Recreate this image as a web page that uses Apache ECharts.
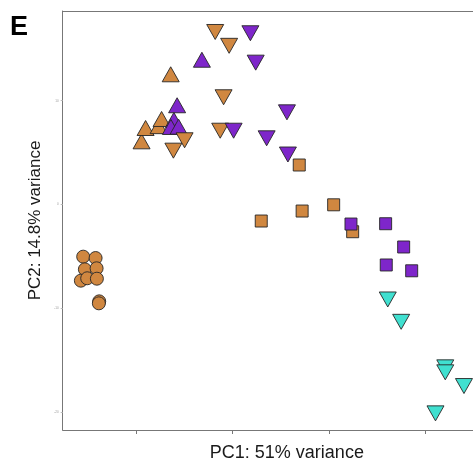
<!DOCTYPE html>
<html>
<head>
<meta charset="utf-8">
<script src="https://cdn.jsdelivr.net/npm/echarts@6/dist/echarts.min.js"></script>
<style>html,body{margin:0;padding:0;background:#fff}#c{width:473px;height:460px}</style>
</head>
<body>
<div id="c"></div>
<script>
// PCA scores [PC1, PC2]
var orangeCircles = [[-30.95,-5.01],[-28.38,-5.14],[-30.60,-6.23],[-28.17,-6.13],[-31.43,-7.32],[-30.12,-7.09],[-28.11,-7.13],[-27.63,-9.31],[-27.70,-9.50]];
var orangeUp = [[-18.84,6.09],[-18.01,7.37],[-15.31,7.55],[-14.69,8.24],[-12.80,12.54]];
var purpleUp = [[-6.33,13.94],[-11.47,9.56],[-12.14,8.14],[-12.76,7.47],[-11.16,7.50]];
var orangeDown = [[-3.57,16.61],[-0.68,15.28],[-1.83,10.33],[-2.53,7.11],[-9.92,6.19],[-12.24,5.19]];
var purpleDown = [[3.73,16.49],[4.83,13.66],[0.25,7.11],[7.10,6.38],[11.31,8.88],[11.51,4.82]];
var orangeSquares = [[13.86,3.81],[5.98,-1.58],[14.46,-0.62],[21.00,-0.02],[24.94,-2.61]];
var purpleSquares = [[24.59,-1.87],[31.78,-1.84],[35.52,-4.08],[31.91,-5.81],[37.18,-6.37]];
var cyanDown = [[32.22,-9.13],[35.00,-11.28],[44.15,-15.66],[44.15,-16.14],[48.03,-17.46],[42.12,-20.09]];
var xTicks = [-20, 0, 20, 40];
var yTicks = [-20, -10, 0, 10];

var ORANGE = '#D08740', PURPLE = '#7E26CA', CYAN = '#40E0D0';
var FONT = 'Liberation Sans, Arial, sans-serif';

function sc(data, color, symbol, size, rot) {
  return {
    type: 'scatter', data: data, symbol: symbol, symbolSize: size, symbolRotate: rot || 0,
    xAxisIndex: 0, yAxisIndex: 0, clip: false,
    itemStyle: { color: color, borderColor: '#262626', borderWidth: 0.9, opacity: 1 },
    emphasis: { disabled: true }, silent: true
  };
}

var chart = echarts.init(document.getElementById('c'));
chart.setOption({
  animation: false,
  title: { text: 'E', left: 5, top: 9, textStyle: { fontFamily: FONT, fontSize: 27, fontWeight: 'bold', color: '#000' } },
  grid: { left: 62.7, top: 11, bottom: 30, right: 0, show: false, containLabel: false, outerBoundsMode: 'none' },
  xAxis: [{
    type: 'value', min: -35.2, max: 49.9,
    name: 'PC1: 51% variance', nameLocation: 'middle', nameGap: 14,
    nameTextStyle: { fontFamily: FONT, fontSize: 18, color: '#1a1a1a', padding: [0, 0, 0, 38] },
    axisLine: { show: true, onZero: false, lineStyle: { color: '#777', width: 1 } },
    axisTick: { show: true, customValues: xTicks, length: 4, lineStyle: { color: '#777' } },
    axisLabel: { show: false },
    splitLine: { show: false }
  }, {
    type: 'value', position: 'top', min: -35.2, max: 49.9,
    axisLine: { show: true, onZero: false, lineStyle: { color: '#777', width: 1 } },
    axisTick: { show: false }, axisLabel: { show: false }, splitLine: { show: false }
  }],
  yAxis: {
    type: 'value', min: -21.69, max: 18.63,
    name: 'PC2: 14.8% variance', nameLocation: 'middle', nameGap: 12,
    nameTextStyle: { fontFamily: FONT, fontSize: 17, color: '#1a1a1a' },
    axisLine: { show: true, onZero: false, lineStyle: { color: '#777', width: 1 } },
    axisTick: { show: true, customValues: yTicks, length: 2, lineStyle: { color: '#bbb' } },
    axisLabel: { show: true, customValues: yTicks, fontSize: 3, color: '#999', margin: 4, fontFamily: FONT },
    splitLine: { show: false }
  },
  series: [
    sc(orangeCircles, ORANGE, 'circle', 13),
    sc(orangeUp, ORANGE, 'triangle', [17, 15]),
    sc(purpleUp, PURPLE, 'triangle', [17, 15]),
    sc(orangeDown, ORANGE, 'triangle', [17, 15], 180),
    sc(purpleDown, PURPLE, 'triangle', [17, 15], 180),
    sc(orangeSquares, ORANGE, 'rect', 12),
    sc(purpleSquares, PURPLE, 'rect', 12),
    sc(cyanDown, CYAN, 'triangle', [17, 15], 180)
  ]
});
</script>
</body>
</html>
